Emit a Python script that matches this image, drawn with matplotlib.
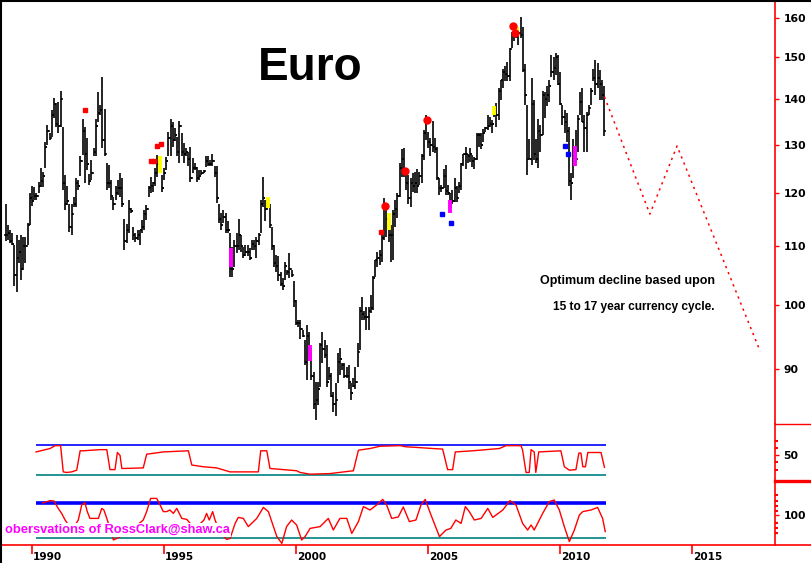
import numpy as np
import matplotlib.pyplot as plt
from matplotlib.lines import Line2D

plt.rcParams['font.family'] = ['DejaVu Sans']

# monthly bars, Jan 1989 .. Sep 2011
start_year = 1989
high = [117.9, 114.0, 113.0, 112.4, 110.3, 112.1, 111.2, 112.1, 111.7, 111.7, 114.4, 120.1,
        121.5, 121.3, 120.1, 122.3, 125.2, 124.3, 130.6, 134.3, 132.6, 137.6, 140.3, 139.2,
        139.4, 142.0, 133.8, 123.7, 121.5, 118.0, 118.0, 119.3, 123.1, 122.7, 127.6, 135.6,
        133.8, 131.4, 123.9, 126.8, 129.3, 135.6, 141.8, 138.8, 145.2, 137.9, 126.1, 125.7,
        122.7, 119.3, 121.5, 122.7, 124.1, 123.1, 115.1, 114.2, 118.7, 117.1, 113.6, 112.4,
        113.0, 113.0, 114.9, 116.8, 117.7, 121.5, 123.3, 122.3, 125.2, 127.8, 127.4, 123.7,
        125.2, 127.4, 132.8, 135.6, 134.9, 133.6, 131.7, 135.1, 132.5, 130.3, 129.3, 128.5,
        129.5, 127.2, 126.1, 125.3, 124.7, 124.7, 124.7, 127.6, 127.6, 126.8, 128.1, 125.5,
        125.5, 118.0, 116.2, 116.8, 116.2, 114.6, 112.4, 109.9, 111.2, 112.4, 115.1, 112.1,
        109.9, 110.3, 110.3, 109.7, 111.2, 111.2, 111.7, 112.4, 118.7, 123.3, 118.7, 119.1,
        118.0, 113.6, 110.3, 108.5, 108.2, 105.4, 104.5, 107.3, 105.9, 108.9, 105.9, 104.0,
        100.8, 97.5, 97.5, 95.9, 94.4, 96.7, 95.6, 92.5, 89.5, 88.0, 88.0, 93.9,
        95.6, 94.4, 93.6, 90.3, 89.3, 86.6, 87.9, 92.3, 93.1, 90.9, 90.9, 90.3,
        90.6, 87.9, 88.6, 90.3, 93.9, 99.6, 101.3, 98.9, 99.6, 99.6, 101.6, 104.8,
        107.6, 109.0, 109.4, 112.1, 119.1, 116.8, 116.2, 114.0, 116.8, 118.7, 120.1, 126.1,
        129.0, 129.3, 124.8, 123.7, 123.1, 124.1, 124.3, 124.8, 124.3, 128.1, 133.2, 136.5,
        132.8, 131.5, 135.1, 131.5, 129.5, 123.1, 121.7, 124.8, 125.7, 121.7, 120.1, 120.7,
        123.1, 121.5, 122.3, 126.1, 128.1, 129.5, 128.1, 129.3, 127.8, 127.4, 132.5, 132.5,
        132.5, 133.4, 133.8, 136.5, 136.0, 135.4, 138.3, 139.2, 142.7, 144.6, 147.2, 147.9,
        148.8, 152.2, 156.4, 158.7, 158.2, 157.4, 160.2, 157.7, 148.3, 138.7, 131.2, 145.1,
        139.9, 131.2, 135.6, 134.3, 142.0, 141.8, 143.1, 144.6, 150.6, 150.1, 151.2, 150.6,
        146.4, 138.7, 137.6, 136.9, 133.8, 124.1, 131.2, 133.2, 136.5, 141.8, 142.7, 136.5,
        137.1, 138.7, 142.7, 147.2, 149.4, 148.6, 146.9, 144.6, 143.1]
low = [111.0, 111.2, 110.7, 110.3, 103.0, 102.0, 107.1, 104.1, 105.9, 107.1, 110.3, 114.0,
       117.5, 118.7, 118.7, 120.1, 121.3, 121.3, 125.2, 129.9, 131.0, 131.7, 135.8, 133.9,
       132.5, 133.8, 120.7, 116.8, 117.7, 112.6, 112.1, 117.3, 117.3, 120.7, 123.5, 127.8,
       122.1, 124.7, 121.7, 122.7, 127.6, 127.6, 134.9, 136.5, 129.3, 127.6, 120.7, 121.1,
       118.7, 116.8, 118.7, 119.7, 119.3, 117.3, 109.4, 110.7, 112.4, 116.2, 111.2, 110.8,
       111.2, 110.3, 112.4, 113.0, 114.9, 119.3, 120.1, 120.3, 121.5, 123.3, 124.1, 120.3,
       122.7, 124.7, 127.6, 127.6, 129.5, 130.8, 127.6, 126.2, 127.6, 126.2, 127.6, 125.5,
       122.3, 124.1, 124.7, 122.3, 122.7, 123.7, 124.1, 125.3, 125.5, 125.5, 125.5, 123.3,
       118.2, 114.4, 113.0, 114.4, 112.4, 112.4, 104.6, 104.6, 106.4, 108.9, 109.4, 109.0,
       108.0, 108.2, 108.2, 107.6, 109.4, 109.4, 108.0, 110.3, 112.4, 117.3, 114.6, 116.8,
       113.4, 109.4, 106.4, 105.5, 104.0, 103.0, 102.4, 104.1, 105.0, 104.5, 104.6, 99.6,
       96.7, 96.4, 94.5, 94.8, 90.6, 88.4, 91.6, 88.4, 84.3, 82.8, 84.8, 87.3,
       90.9, 91.6, 87.3, 88.4, 85.9, 83.8, 83.3, 87.9, 89.1, 89.8, 88.7, 88.7,
       87.1, 85.5, 87.3, 87.1, 90.3, 92.8, 97.5, 97.5, 95.9, 95.9, 98.6, 99.1,
       104.6, 106.4, 106.7, 107.3, 111.2, 111.7, 110.8, 107.3, 107.6, 113.6, 115.3, 119.3,
       123.3, 123.3, 120.7, 118.0, 117.3, 120.3, 120.1, 120.1, 121.7, 122.1, 126.8, 131.0,
       129.3, 127.6, 128.5, 128.3, 122.7, 119.7, 120.3, 121.1, 119.7, 119.7, 117.7, 118.0,
       118.3, 118.3, 120.1, 120.7, 125.5, 124.8, 126.1, 126.3, 125.3, 124.8, 126.8, 129.5,
       129.0, 130.6, 132.8, 133.2, 133.8, 132.5, 136.0, 133.8, 135.4, 139.9, 142.7, 144.2,
       144.2, 144.2, 152.2, 154.0, 154.9, 153.1, 154.9, 146.4, 138.7, 123.7, 127.0, 125.7,
       126.8, 126.1, 125.2, 128.5, 132.1, 135.8, 138.5, 139.4, 145.3, 144.6, 145.7, 143.4,
       138.7, 134.3, 132.5, 130.6, 121.5, 118.7, 123.1, 126.3, 128.5, 136.5, 134.9, 128.5,
       128.5, 136.5, 138.7, 144.2, 141.0, 142.7, 139.9, 139.9, 131.8]
close = [112, 112.5, 111, 110.5, 105, 108, 109, 106, 110, 110, 114, 119,
         118.5, 119.5, 119.5, 121.5, 122.5, 123.5, 129.5, 133, 131.5, 136.5, 139, 134.5,
         134, 140, 122, 118, 118.5, 113.5, 116, 118, 122, 121.5, 126.5, 133,
         128, 126, 122.5, 124, 128.5, 134, 137, 137.5, 131, 128, 122, 122,
         119.5, 118, 120, 121, 121, 118, 111, 113, 117, 116.5, 112, 111.5,
         112, 113, 113.5, 116, 117, 121, 121.5, 122, 124, 126, 125, 121,
         124, 126.5, 131.5, 134, 131, 132, 128.5, 134, 128.5, 128, 128.5, 127,
         123, 125, 125, 123, 123.5, 124, 124.5, 126.5, 126, 126, 126.5, 124,
         119, 115, 114, 115.5, 113, 113, 106, 106, 110, 110, 112, 110,
         108.5, 109, 109, 108, 110.5, 110, 111, 112, 118, 119, 117, 117.5,
         114, 110, 107, 106.5, 105, 103.5, 103, 106.5, 105.5, 106, 105, 100.5,
         97, 97, 96, 95, 91, 95, 92, 89, 85, 85.5, 87, 93.5,
         93, 92, 88, 89, 86, 85, 85.5, 91, 91.5, 90.5, 89, 89,
         88, 86.5, 87.5, 88, 92.5, 99, 98.5, 98, 98, 99, 99.5, 104.5,
         107.5, 108, 108.5, 111.5, 118, 115, 112, 112, 116, 117, 119.5, 125,
         127, 124, 122, 119, 122, 121.5, 122, 121.5, 123.5, 127.5, 132.5, 135.5,
         130.5, 130, 129.5, 129, 123, 121, 121, 123.5, 120.5, 120, 118, 118.5,
         121, 119, 121.5, 126, 128, 128, 127.5, 128, 126.5, 127, 132, 132,
         130, 132.5, 133.5, 134, 134.5, 134.5, 137, 136.5, 142, 144.5, 146.5, 146,
         145.5, 152, 155.5, 156, 155, 156, 155.5, 147, 141, 127, 127, 139,
         128, 127, 133, 132, 141, 140, 141, 143, 146.5, 147.5, 150, 143.5,
         139, 136, 135, 133, 122.5, 122, 127.5, 127, 135.5, 139.5, 135, 133.5,
         136.5, 138, 142, 145, 143.5, 145, 143.5, 141, 133]

# projected decline
proj_t = [2011.68, 2013.40, 2014.43, 2017.58]
proj_p = [140.6, 116.0, 129.7, 92.6]

# signal marks
dot_t = [2003.37, 2004.13, 2004.96, 2008.22, 2008.29]
dot_p = [117.6, 124.5, 135.3, 157.9, 156.0]
yel_t = [1994.86, 1998.94, 2003.50, 2007.50, 2008.37]
yel_hi = [127.6, 119.3, 116.2, 138.6, 157.7]
yel_lo = [124.0, 117.1, 113.0, 136.5, 156.0]
mag_t = [1997.52, 2000.51, 2005.82, 2010.57]
mag_hi = [109.7, 93.5, 118.7, 129.7]
mag_lo = [106.4, 91.2, 116.2, 125.5]
rflag_t = [1992.00, 1994.50, 1994.62, 1994.75, 1994.90, 2003.22]
rflag_p = [137.5, 126.5, 126.5, 129.6, 130.1, 112.7]
bflag_t = [2005.54, 2005.88, 2010.19, 2010.30]
bflag_p = [116.1, 114.3, 129.7, 128.0]

# upper oscillator
osc1_t = [1990.15, 1990.68, 1990.87, 1991.08, 1991.18, 1991.31, 1991.50, 1991.69, 1991.82, 1991.94,
          1992.57, 1992.83, 1992.95, 1993.14, 1993.23, 1993.33, 1993.40, 1993.52, 1994.21, 1994.34,
          1994.97, 1995.92, 1996.05, 1996.49, 1996.99, 1997.50, 1998.57, 1998.66, 1998.89, 1999.01,
          2000.02, 2000.15, 2000.52, 2001.28, 2002.17, 2002.36, 2002.80, 2003.18, 2003.94, 2004.16,
          2004.54, 2005.17, 2005.55, 2005.74, 2005.93, 2006.03, 2006.69, 2007.70, 2007.95, 2008.52,
          2008.58, 2008.71, 2008.83, 2008.90, 2009.02, 2009.08, 2009.19, 2010.03, 2010.16, 2010.35,
          2010.60, 2010.71, 2010.79, 2010.86, 2010.96, 2011.05, 2011.55, 2011.68]
osc1_v = [56, 62, 67, 67, 21, 20, 21, 24, 58, 58,
          60, 60, 25, 25, 55, 50, 27, 27, 28, 52,
          56, 58, 33, 30, 28, 21, 21, 58, 58, 27,
          23, 20, 17, 18, 23, 59, 62, 66, 67, 65,
          64, 62, 61, 25, 25, 56, 58, 62, 67, 67,
          59, 20, 20, 60, 56, 20, 56, 58, 30, 24,
          25, 54, 54, 30, 30, 55, 55, 29]

# lower oscillator
osc2_t = [1990.40, 1990.68, 1990.83, 1990.99, 1991.12, 1991.25, 1991.51, 1991.75, 1991.88, 1992.00,
          1992.09, 1992.19, 1992.51, 1992.64, 1992.72, 1992.85, 1993.08, 1993.21, 1993.60, 1993.90,
          1994.21, 1994.34, 1994.49, 1994.72, 1994.85, 1994.97, 1995.10, 1995.22, 1995.35, 1995.48,
          1995.67, 1995.86, 1996.17, 1996.51, 1996.61, 1996.71, 1996.84, 1996.93, 1997.12, 1997.37,
          1997.50, 1997.69, 1997.81, 1998.00, 1998.19, 1998.51, 1998.76, 1998.95, 1999.27, 1999.46,
          1999.64, 1999.83, 2000.02, 2000.21, 2000.34, 2000.53, 2000.91, 2001.22, 2001.41, 2001.66,
          2001.92, 2002.11, 2002.36, 2002.55, 2002.80, 2003.05, 2003.28, 2003.43, 2003.62, 2003.87,
          2004.06, 2004.29, 2004.54, 2004.73, 2004.89, 2005.11, 2005.43, 2005.68, 2005.86, 2006.05,
          2006.25, 2006.41, 2006.56, 2006.75, 2007.01, 2007.26, 2007.45, 2007.83, 2008.10, 2008.33,
          2008.58, 2008.77, 2008.90, 2009.02, 2009.34, 2009.59, 2009.78, 2009.97, 2010.16, 2010.35,
          2010.54, 2010.73, 2010.86, 2011.17, 2011.42, 2011.61, 2011.71]
osc2_v = [106, 107.2, 107, 103.3, 100.8, 97.5, 92.5, 97.5, 105, 106.2,
          101.7, 98.3, 98.3, 103.3, 102.5, 97.5, 87.5, 88.3, 91, 94,
          97.5, 101.7, 108.3, 108.3, 105, 101.7, 101.7, 102.5, 100.8, 103.3,
          98.3, 97.8, 93, 97.5, 100.8, 97.5, 101.7, 97.5, 91, 87.8,
          88.3, 95.8, 98.8, 98.3, 94.2, 98.3, 103.8, 101.7, 89.2, 85.8,
          94.2, 97.5, 95, 87.5, 89.2, 93.3, 94.2, 98.3, 92.5, 98.3,
          98.3, 90.8, 96.7, 104.2, 102.5, 105, 107.8, 105, 98.3, 99,
          104, 96.7, 97.5, 105, 107.8, 100, 89.2, 92.5, 93.3, 97.5,
          95.8, 104.2, 101.7, 97.5, 98.3, 103.3, 98.8, 102.5, 107.2, 105,
          95.8, 92.5, 95, 92.5, 100.8, 106.7, 107.5, 102.5, 94.2, 86.7,
          92.5, 100, 101.7, 102.5, 103.8, 98.3, 91.7]

price_ticks = [90, 100, 110, 120, 130, 140, 150, 160]
year_ticks = [1990, 1995, 2000, 2005, 2010, 2015]

t = start_year + np.arange(len(close)) / 12.0
opens = [close[0]] + close[:-1]

W, H = 812, 563
fig = plt.figure(figsize=(W / 100, H / 100), dpi=100)


def box(top, bottom):
    return [2 / W, 1 - bottom / H, 773 / W, (bottom - top) / H]


ax = fig.add_axes(box(0, 424))
ax1 = fig.add_axes(box(424, 481), sharex=ax)
ax2 = fig.add_axes(box(481, 545), sharex=ax)
ax.set_xlim(1988.86, 2018.14)

# price bars
ax.vlines(t, low, high, color='black', lw=1.2)
ax.hlines(opens, t - 0.065, t, color='black', lw=1.1)
ax.hlines(close, t, t + 0.065, color='black', lw=1.1)

ax.vlines(yel_t, yel_lo, yel_hi, color='#ffff00', lw=2.8, zorder=3)
ax.vlines(mag_t, mag_lo, mag_hi, color='#ff00ff', lw=2.8, zorder=3)
ax.plot(dot_t, dot_p, 'o', color='red', ms=5, mec='red', zorder=4)
ax.plot(rflag_t, rflag_p, 's', color='red', ms=2.8, zorder=4)
ax.plot(bflag_t, bflag_p, 's', color='blue', ms=2.8, zorder=4)

ax.plot(proj_t, proj_p, color='red', lw=1.1, linestyle=(0, (1.5, 2.8)))

ax.set_yscale('log')
ax.set_ylim(82.2, 164.8)
ax.yaxis.set_minor_locator(plt.NullLocator())
ax.set_yticks(price_ticks)
ax.set_yticklabels([str(p) for p in price_ticks], fontsize=7.8, fontweight='bold')
for i, p in enumerate(price_ticks):
    if p in (120, 160):
        ax.yaxis.get_major_ticks()[i].tick2line.set_markeredgewidth(2.2)

fig.text(628 / W, 1 - 284 / H, 'Optimum decline based upon', fontsize=9,
         fontweight='bold', family='Liberation Sans', ha='center', va='baseline')
fig.text(634 / W, 1 - 310 / H, '15 to 17 year currency cycle.', fontsize=8.6,
         fontweight='bold', family='Liberation Sans', ha='center', va='baseline')
fig.text(310 / W, 1 - 80 / H, 'Euro', fontsize=33, fontweight='bold',
         family='Liberation Sans', ha='center', va='baseline')

# oscillators
ax1.hlines(68, 1990.15, 2011.73, color='#0000ff', lw=1.2)
ax1.hlines(15, 1990.15, 2011.73, color='#008080', lw=1.2)
ax1.plot(osc1_t, osc1_v, color='red', lw=1.0)
ax1.set_ylim(5, 105)
ax1.set_yticks([50])
ax1.set_yticklabels(['50'], fontsize=7.8, fontweight='bold')
ax1.set_yticks([25, 37.5, 62.5, 75], minor=True)

ax2.hlines(106, 1990.15, 2011.73, color='#0000ff', lw=2.6)
ax2.hlines(88.3, 1990.15, 2011.73, color='#008080', lw=1.2)
ax2.plot(osc2_t, osc2_v, color='red', lw=1.0)
ax2.set_ylim(85, 117)
ax2.set_yticks([100])
ax2.set_yticklabels(['100'], fontsize=7.8, fontweight='bold')
ax2.set_yticks([91, 93.5, 96, 102, 104.5, 107, 110], minor=True)

for a in (ax, ax1, ax2):
    for s in ('top', 'left', 'bottom'):
        a.spines[s].set_visible(False)
    a.spines['right'].set_color('red')
    a.spines['right'].set_linewidth(1.2)
    a.yaxis.tick_right()
    a.tick_params(axis='y', which='major', colors='red', labelcolor='black',
                  direction='out', length=3, width=1, pad=3)
    a.tick_params(axis='y', which='minor', colors='red', direction='out',
                  length=2.5, width=1.5)
    a.tick_params(axis='x', bottom=False, labelbottom=False)

ax2.set_xticks(year_ticks)
ax2.tick_params(axis='x', bottom=True, colors='red', direction='out',
                length=6.5, width=1.2, labelbottom=False)
for y in year_ticks:
    ax2.annotate(str(y), xy=(y, 0), xycoords=('data', 'axes fraction'),
                 xytext=(0.8, -5), textcoords='offset points', ha='left', va='top',
                 fontsize=7.6, fontweight='bold', annotation_clip=False)

fig.text(5 / W, 1 - 533 / H, 'obersvations of RossClark@shaw.ca', color='#ff00ff',
         fontsize=9.3, fontweight='bold', family='Liberation Sans', ha='left',
         va='baseline', bbox=dict(boxstyle='square,pad=0.1', fc='white', ec='none'),
         zorder=5)

# frame lines
fig.add_artist(Line2D([0, 1], [1 - 545 / H] * 2, color='red', lw=1.2))
fig.add_artist(Line2D([775 / W, 1], [1 - 424 / H] * 2, color='red', lw=1.0))
fig.add_artist(Line2D([775 / W, 1], [1 - 481 / H] * 2, color='red', lw=2.4))
fig.add_artist(Line2D([0, 1], [1 - 0.5 / H] * 2, color='black', lw=1.5))
fig.add_artist(Line2D([1.5 / W] * 2, [0, 1], color='black', lw=1.5))

fig.savefig('out.png', dpi=100)
